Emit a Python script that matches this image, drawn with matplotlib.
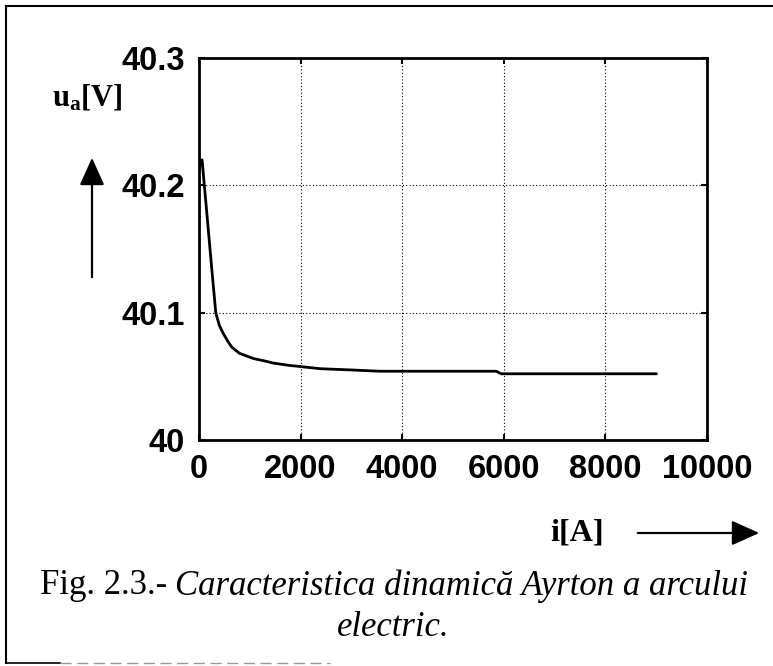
import matplotlib
matplotlib.use("Agg")
import matplotlib.pyplot as plt
from matplotlib.patches import FancyArrowPatch
from matplotlib.lines import Line2D

# ---- data ----
current_A = [0, 30, 60, 150, 250, 330, 400, 479, 560, 643, 800, 1070, 1300, 1463,
             1791, 1923, 2382, 3000, 3562, 4000, 5000, 5850, 5950, 6500, 7500, 9000]
voltage_V = [40.212, 40.218, 40.220, 40.180, 40.135, 40.100, 40.090, 40.0836,
             40.078, 40.073, 40.068, 40.064, 40.062, 40.0604, 40.0585, 40.058,
             40.056, 40.055, 40.054, 40.054, 40.054, 40.054, 40.052, 40.052,
             40.052, 40.052]
xticks = [0, 2000, 4000, 6000, 8000, 10000]
xticklabels = ["0", "2000", "4000", "6000", "8000", "10000"]
yticks = [40.0, 40.1, 40.2, 40.3]
yticklabels = ["40", "40.1", "40.2", "40.3"]
caption_plain = "Fig. 2.3.- "
caption_italic = "Caracteristica dinamică Ayrton a arcului"
caption_line2 = "electric."

W, H = 773, 666
fig = plt.figure(figsize=(W / 100, H / 100), dpi=100)
fig.patch.set_facecolor("white")

def fx(px):
    return px / W

def fy(py):
    return 1 - py / H

ax = fig.add_axes([fx(199), fy(440), fx(707) - fx(199), fy(58) - fy(440)])
ax.plot(current_A, voltage_V, color="black", lw=2.0)
ax.set_xlim(0, 10000)
ax.set_ylim(40.0, 40.3)
ax.set_xticks(xticks)
ax.set_xticklabels(xticklabels)
ax.set_yticks(yticks)
ax.set_yticklabels(yticklabels)
ax.grid(True, linestyle=(0, (1, 2)), color="black", lw=0.8)
for s in ax.spines.values():
    s.set_linewidth(2.0)
ax.tick_params(direction="in", length=4, width=1.5, top=True, right=True)
ax.tick_params(axis="x", pad=10)
ax.tick_params(axis="y", pad=10)
for lab in ax.get_xticklabels() + ax.get_yticklabels():
    lab.set_fontfamily("Liberation Sans")
    lab.set_fontweight("bold")
    lab.set_fontsize(23.5)

# axis labels
plt.rcParams["mathtext.fontset"] = "custom"
plt.rcParams["mathtext.bf"] = "Liberation Serif:bold"
plt.rcParams["mathtext.rm"] = "Liberation Serif:bold"
fig.text(fx(52), fy(97), r"$\mathbf{u_a[V]}$", ha="left", va="center",
         fontsize=22)
fig.text(fx(550), fy(533), "i[A]", ha="left", va="center",
         fontfamily="Liberation Serif", fontweight="bold", fontsize=23)

# arrows
fig.add_artist(FancyArrowPatch((fx(92), fy(280)), (fx(92), fy(155)),
                               transform=fig.transFigure,
                               arrowstyle="-|>,head_length=1.0,head_width=0.45",
                               mutation_scale=17, color="black", lw=1.6))
fig.add_artist(FancyArrowPatch((fx(635), fy(533)), (fx(762), fy(533)),
                               transform=fig.transFigure,
                               arrowstyle="-|>,head_length=1.0,head_width=0.45",
                               mutation_scale=17, color="black", lw=1.6))

# frame
fig.add_artist(Line2D([fx(6), fx(773)], [fy(6), fy(6)], color="black", lw=1.5))
fig.add_artist(Line2D([fx(6), fx(6)], [fy(6), fy(663)], color="black", lw=1.5))
fig.add_artist(Line2D([fx(6), fx(60)], [fy(663), fy(663)], color="black", lw=1.2))
fig.add_artist(Line2D([fx(60), fx(330)], [fy(663), fy(663)], color="#999999",
                      lw=1.0, linestyle=(0, (8, 4))))

# caption
t1 = fig.text(0, fy(586), caption_plain, ha="left", va="center",
              fontfamily="Liberation Serif", fontsize=25)
t2 = fig.text(0, fy(586), caption_italic, ha="left", va="center",
              fontfamily="Liberation Serif", style="italic", fontsize=25)
fig.text(fx(393), fy(628), caption_line2, ha="center", va="center",
         fontfamily="Liberation Serif", style="italic", fontsize=25)
fig.canvas.draw()
r = fig.canvas.get_renderer()
w1 = t1.get_window_extent(r).width
w2 = t2.get_window_extent(r).width
x0 = 394 - (w1 + w2) / 2
t1.set_x(fx(x0))
t2.set_x(fx(x0 + w1))

fig.savefig("out.png", dpi=100)
